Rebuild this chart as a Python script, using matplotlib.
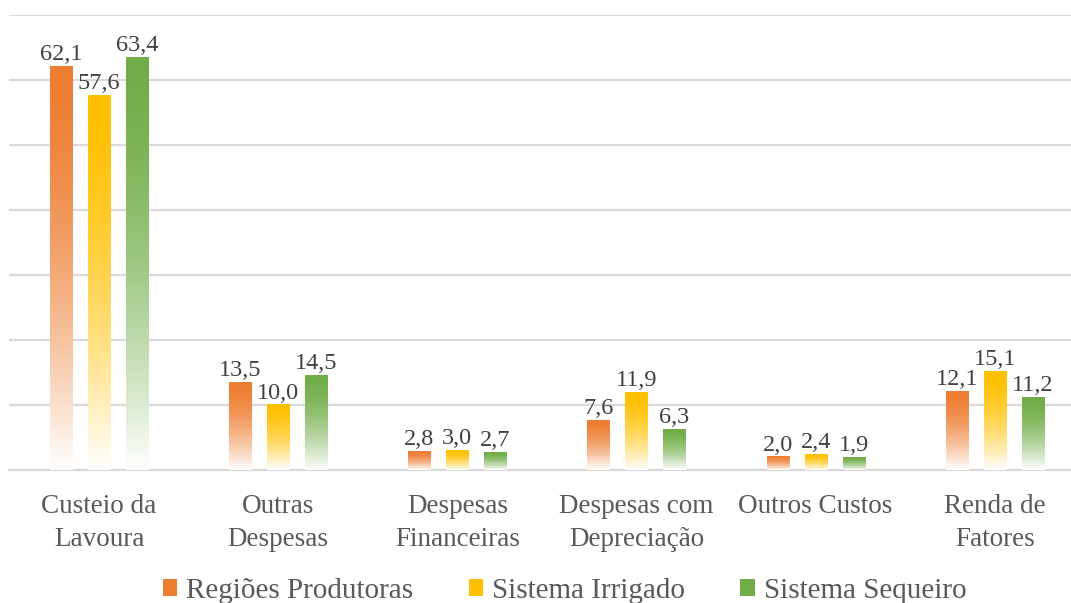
import numpy as np
import matplotlib
matplotlib.use("Agg")
import matplotlib.pyplot as plt
from matplotlib import font_manager
from matplotlib.colors import to_rgb
from matplotlib.patches import Patch

categorias = ["Custeio da\nLavoura", "Outras\nDespesas", "Despesas\nFinanceiras",
              "Despesas com\nDepreciação", "Outros Custos", "Renda de\nFatores"]
series = ["Regiões Produtoras", "Sistema Irrigado", "Sistema Sequeiro"]
regioes = [62.1, 13.5, 2.8, 7.6, 2.0, 12.1]
irrigado = [57.6, 10.0, 3.0, 11.9, 2.4, 15.1]
sequeiro = [63.4, 14.5, 2.7, 6.3, 1.9, 11.2]
cores = ["#ED7D31", "#FFC000", "#70AD47"]

# procura o arquivo de uma fonte serifada
arquivo = None
for chave in ["LiberationSerif-Regular", "Times", "Tinos-Regular", "DejaVuSerif.ttf"]:
    for f in font_manager.fontManager.ttflist:
        if chave in f.fname:
            arquivo = f.fname
            break
    if arquivo:
        break
if arquivo:
    nome = font_manager.FontProperties(fname=arquivo).get_name()
    plt.rcParams['font.family'] = [nome, 'DejaVu Sans']

fig = plt.figure(figsize=(10.71, 6.03), dpi=100)
ax = fig.add_axes([0.0088, 0.2206, 1.0037, 0.7546])

x = np.arange(len(categorias))
largura = 0.123
passo = 0.212


def barra_gradiente(ax, xc, h, cor):
    rgb = np.array(to_rgb(cor))
    t = np.linspace(0, 1, 200)[:, None]        # 0 topo, 1 base
    f = 1 - t ** 1.6
    img = f[..., None] * rgb + (1 - f[..., None]) * np.ones(3)
    ax.imshow(img, extent=(xc - largura / 2, xc + largura / 2, 0, h),
              aspect='auto', zorder=3, interpolation='bilinear')


for i, (vals, cor) in enumerate(zip([regioes, irrigado, sequeiro], cores)):
    for xi, v in zip(x, vals):
        xc = xi + (i - 1) * passo
        barra_gradiente(ax, xc, v, cor)
        ax.annotate(f"{v:.1f}".replace(".", ","), (xc, v), xytext=(0, 1),
                    textcoords='offset points', ha='center', va='bottom',
                    fontsize=17.5, color='#404040', zorder=5)

ax.set_xlim(-0.5, len(categorias) - 0.5)
ax.set_ylim(0, 70)
ax.set_yticks(np.arange(0, 71, 10))
ax.yaxis.grid(True, color='#d9d9d9', linewidth=1.6, zorder=0)
ax.set_axisbelow(True)
ax.set_yticklabels([])
ax.tick_params(axis='y', length=0)
ax.set_xticks(x)
ax.set_xticklabels(categorias, fontsize=19.5, color='#595959', linespacing=1.45)
ax.tick_params(axis='x', length=0, pad=17)
for s in ['top', 'left', 'right']:
    ax.spines[s].set_visible(False)
ax.spines['bottom'].set_color('#d9d9d9')
ax.spines['bottom'].set_linewidth(1.6)

handles = [Patch(facecolor=c, edgecolor='none') for c in cores]
fig.legend(handles, series, loc='lower center', bbox_to_anchor=(0.527, -0.045),
           ncol=3, frameon=False, fontsize=21, labelcolor='#595959',
           handlelength=0.5, handleheight=0.5, handletextpad=0.3, columnspacing=1.9)

fig.savefig("out.png", dpi=100)
